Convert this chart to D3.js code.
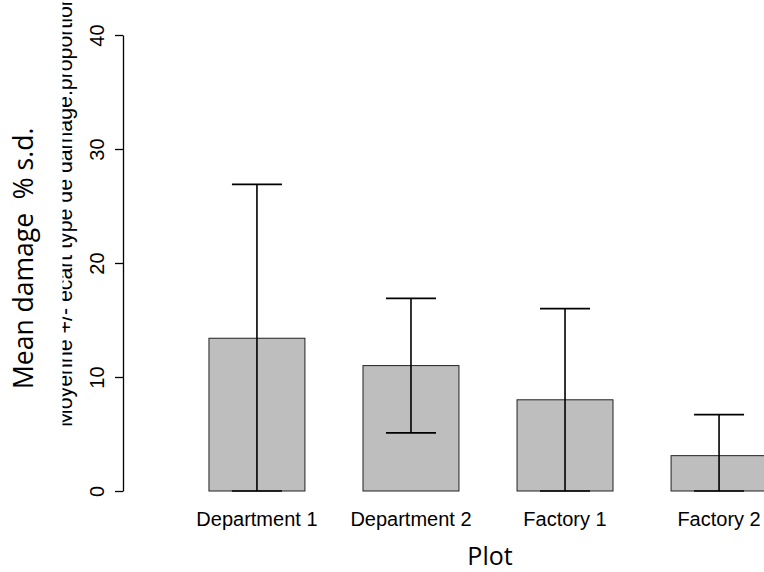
<!DOCTYPE html>
<html>
<head>
<meta charset="utf-8">
<script src="https://cdn.jsdelivr.net/npm/d3@7"></script>
<style>
  body { margin: 0; background: #fff; }
  svg { display: block; }
</style>
</head>
<body>
<div id="chart"></div>
<script>
// data
const categories = ['Department 1', 'Department 2', 'Factory 1', 'Factory 2'];
const means = [13.4, 11.0, 8.0, 3.1];
const sds = [13.5, 5.9, 8.0, 3.6];
const yTicks = [0, 10, 20, 30, 40];

const width = 764;
const height = 572;
const axisX = 123;

const svg = d3.select('#chart')
  .append('svg')
  .attr('width', width)
  .attr('height', height);

const x = d3.scaleBand()
  .domain(categories)
  .range([180, 796])
  .paddingInner(0.377)
  .paddingOuter(0.188);

const y = d3.scaleLinear()
  .domain([0, 40])
  .range([491, 35]);

const rows = categories.map((c, i) => ({
  name: c,
  mean: means[i],
  lo: Math.max(0, means[i] - sds[i]),
  hi: means[i] + sds[i],
}));

// bars
svg.append('g')
  .selectAll('rect')
  .data(rows)
  .enter()
  .append('rect')
  .attr('x', d => x(d.name))
  .attr('y', d => y(d.mean))
  .attr('width', x.bandwidth())
  .attr('height', d => y(0) - y(d.mean))
  .attr('fill', '#bebebe')
  .attr('stroke', '#222')
  .attr('stroke-width', 1);

// error bars
const capHalf = 25;
const err = svg.append('g')
  .attr('stroke', '#000')
  .attr('stroke-width', 1.6);

rows.forEach(d => {
  const cx = x(d.name) + x.bandwidth() / 2;
  err.append('line')
    .attr('x1', cx).attr('x2', cx)
    .attr('y1', y(d.lo)).attr('y2', y(d.hi));
  [d.lo, d.hi].forEach(v => {
    err.append('line')
      .attr('x1', cx - capHalf).attr('x2', cx + capHalf)
      .attr('y1', y(v)).attr('y2', y(v));
  });
});

// y axis, R style with rotated labels
const yAxis = svg.append('g')
  .attr('transform', `translate(${axisX},0)`)
  .call(d3.axisLeft(y).tickValues(yTicks).tickSize(8).tickSizeOuter(0));

yAxis.select('.domain').attr('stroke', '#000').attr('stroke-width', 1.3);
yAxis.selectAll('.tick line').attr('stroke', '#000').attr('stroke-width', 1.3);
yAxis.selectAll('.tick text')
  .attr('transform', 'rotate(-90)')
  .attr('x', 0)
  .attr('y', -19)
  .attr('dy', 0)
  .attr('text-anchor', 'middle')
  .attr('fill', '#000')
  .style('font-family', '"Liberation Sans", Arial, sans-serif')
  .style('font-size', '20px');

// category labels
svg.append('g')
  .selectAll('text')
  .data(categories)
  .enter()
  .append('text')
  .attr('x', d => x(d) + x.bandwidth() / 2)
  .attr('y', 526)
  .attr('text-anchor', 'middle')
  .style('font-family', '"Liberation Sans", Arial, sans-serif')
  .style('font-size', '20px')
  .text(d => d);

// axis titles
svg.append('text')
  .attr('x', 490)
  .attr('y', 565)
  .attr('text-anchor', 'middle')
  .style('font-family', '"Open Sans", sans-serif')
  .style('font-size', '25px')
  .text('Plot');

svg.append('text')
  .attr('transform', 'translate(33,389) rotate(-90)')
  .attr('text-anchor', 'start')
  .style('font-family', '"Open Sans", sans-serif')
  .style('font-size', '26.5px')
  .style('white-space', 'pre')
  .text('Mean damage  % s.d.');

// second y title, its top half is cut off in the original
svg.append('clipPath')
  .attr('id', 'cut')
  .append('rect')
  .attr('x', 62.5).attr('y', 0)
  .attr('width', 40).attr('height', height);

svg.append('g')
  .attr('clip-path', 'url(#cut)')
  .append('text')
  .attr('transform', 'translate(72,427) rotate(-90)')
  .attr('text-anchor', 'start')
  .style('font-family', '"Liberation Sans", Arial, sans-serif')
  .style('font-size', '21.3px')
  .text('Moyenne +/- ecart type de damage.proportion');
</script>
</body>
</html>
